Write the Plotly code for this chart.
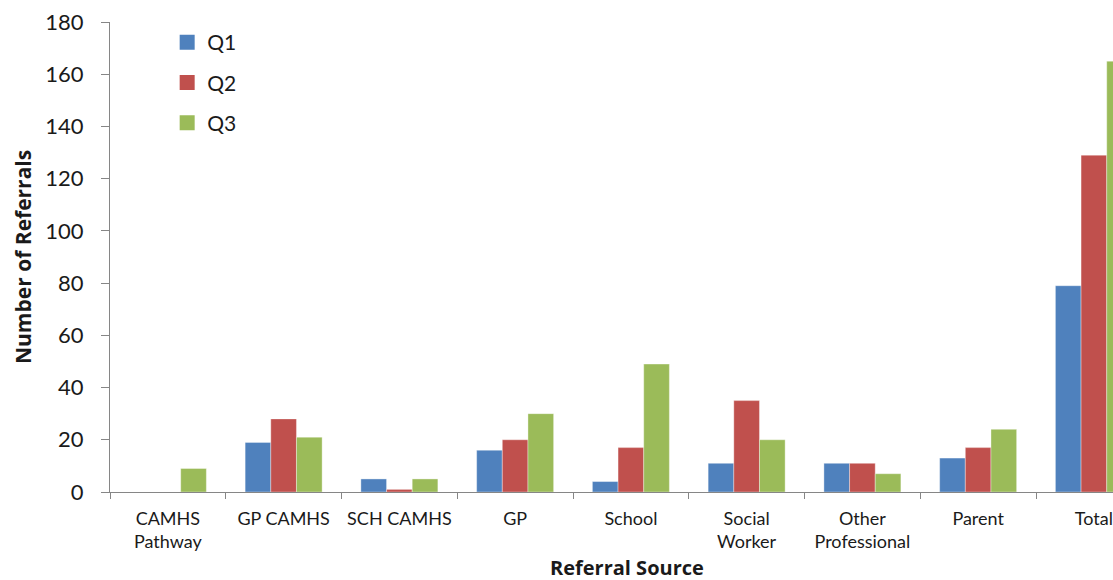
import plotly.graph_objects as go

categories = ["CAMHS<br>Pathway", "GP CAMHS", "SCH CAMHS", "GP", "School",
              "Social<br>Worker", "Other<br>Professional", "Parent", "Total"]
q1 = [0, 19, 5, 16, 4, 11, 11, 13, 79]
q2 = [0, 28, 1, 20, 17, 35, 11, 17, 129]
q3 = [9, 21, 5, 30, 49, 20, 7, 24, 165]
series_names = ["Q1", "Q2", "Q3"]
colors = ["#4F81BD", "#C0504D", "#9BBB59"]
y_ticks = list(range(0, 181, 20))

FONT = "Lato, Carlito, 'Liberation Sans', sans-serif"
TFONT = "'Open Sans', Lato, sans-serif"
TXT = "#1a1a1a"

fig = go.Figure()
for i, (name, vals) in enumerate(zip(series_names, [q1, q2, q3])):
    fig.add_trace(go.Bar(
        x=categories, y=vals, name=name, legendgroup=name, showlegend=False,
        marker=dict(color=colors[i], line=dict(color="rgba(255,255,255,0.45)", width=0.8)),
    ))
# legend entries with larger square swatches (no visible marks)
for i, name in enumerate(series_names):
    fig.add_trace(go.Scatter(
        x=[categories[0]], y=[None], mode="markers", name=name, legendgroup=name,
        marker=dict(symbol="square", size=15, color=colors[i]),
        hoverinfo="skip",
    ))

fig.update_layout(
    width=1113, height=580,
    margin=dict(l=110, r=0, t=22, b=88, autoexpand=False),
    paper_bgcolor="white", plot_bgcolor="white",
    barmode="group", bargap=0.335, bargroupgap=0,
    font=dict(family=FONT, color=TXT),
    showlegend=True,
    legend=dict(x=0.057, y=1.0, xanchor="left", yanchor="top",
                font=dict(size=21, family=FONT, color=TXT),
                tracegroupgap=10, traceorder="grouped",
                bgcolor="rgba(0,0,0,0)", itemwidth=30),
    xaxis=dict(
        type="category", range=[-0.5, 8.165],
        showline=True, linecolor="#868686", linewidth=1,
        ticks="outside", ticklen=6, tickcolor="#868686", tickson="boundaries",
        tickfont=dict(size=18, family=FONT, color=TXT),
        showgrid=False, zeroline=False, automargin=False, ticklabelstandoff=10,
    ),
    yaxis=dict(
        range=[0, 180], tickvals=y_ticks,
        showline=True, linecolor="#868686", linewidth=1,
        ticks="outside", ticklen=8, tickcolor="#868686",
        tickfont=dict(size=22, family=FONT, color=TXT),
        showgrid=False, zeroline=False, automargin=False, ticklabelstandoff=13,
    ),
    annotations=[
        dict(text="<b>Number of Referrals</b>", textangle=-90,
             xref="paper", yref="paper", x=-(110 - 23) / 1003, y=(492 - 257) / 470,
             xanchor="center", yanchor="middle", showarrow=False,
             font=dict(size=21, family=TFONT, color=TXT)),
        dict(text="<b>Referral Source</b>",
             xref="paper", yref="paper", x=(627 - 110) / 1003, y=-(567 - 492) / 470,
             xanchor="center", yanchor="middle", showarrow=False,
             font=dict(size=20, family=TFONT, color=TXT)),
    ],
)

fig.write_html("out.html")
